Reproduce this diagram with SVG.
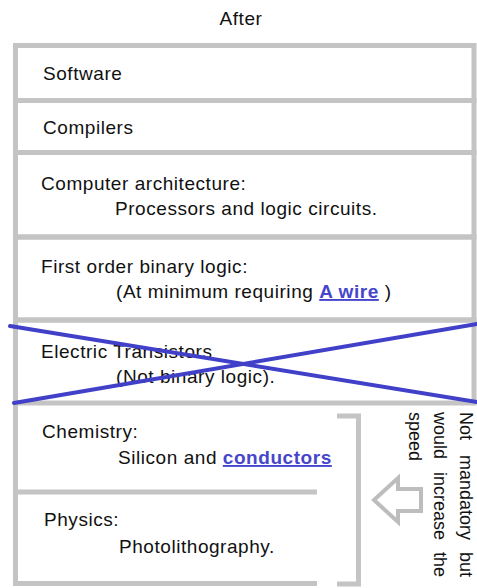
<svg xmlns="http://www.w3.org/2000/svg" width="477" height="588" viewBox="0 0 477 588">
<style>
  .t{font-family:"Liberation Sans",Arial,sans-serif;font-size:19px;fill:#111;letter-spacing:0.55px}
  .v{font-family:"Liberation Sans",Arial,sans-serif;font-size:18px;fill:#111}
  .lnk{fill:#4646cc;font-weight:bold;text-decoration:underline}
  .b{fill:none;stroke:#c4c4c4;stroke-width:5}
  .x{stroke:#4040c8;stroke-width:4;stroke-linecap:round}
</style>
<rect width="477" height="588" fill="#fff"/>
<text class="t" x="241" y="25" text-anchor="middle">After</text>
<g id="software">
  <rect class="b" x="15.5" y="45.5" width="458.5" height="55"/>
  <text class="t" x="43" y="80">Software</text>
</g>
<g id="compilers">
  <rect class="b" x="15.5" y="100.5" width="458.5" height="52"/>
  <text class="t" x="43" y="134">Compilers</text>
</g>
<g id="architecture">
  <rect class="b" x="15.5" y="152.5" width="458.5" height="84.5"/>
  <text class="t" x="41" y="190">Computer architecture:</text>
  <text class="t" x="115" y="215">Processors and logic circuits.</text>
</g>
<g id="binary-logic">
  <rect class="b" x="15.5" y="237" width="458.5" height="83"/>
  <text class="t" x="41" y="273">First order binary logic:</text>
  <text class="t" x="116" y="298">(At minimum requiring <tspan class="lnk">A wire</tspan> )</text>
</g>
<g id="transistors">
  <rect class="b" x="15.5" y="320" width="458.5" height="83"/>
  <text class="t" x="41" y="358">Electric Transistors</text>
  <text class="t" x="116" y="383">(Not binary logic).</text>
</g>
<g id="chemistry">
  <path class="b" d="M15.5,403 V492 H317"/>
  <text class="t" x="42" y="438">Chemistry:</text>
  <text class="t" x="118" y="464">Silicon and <tspan class="lnk">conductors</tspan></text>
</g>
<g id="physics">
  <path class="b" d="M15.5,492 V583.5 H317"/>
  <text class="t" x="44" y="526">Physics:</text>
  <text class="t" x="119" y="553">Photolithography.</text>
</g>
<g id="note">
  <path class="b" d="M337,416 H358.5 V584 H337"/>
  <text class="v" transform="translate(460,0) rotate(90)"><tspan x="412">Not</tspan><tspan x="455">mandatory</tspan><tspan x="577" text-anchor="end">but</tspan></text>
  <text class="v" transform="translate(434,0) rotate(90)"><tspan x="412">would</tspan><tspan x="472">increase</tspan><tspan x="577" text-anchor="end">the</tspan></text>
  <text class="v" transform="translate(409,0) rotate(90)"><tspan x="412">speed</tspan></text>
</g>
<g id="connectors">
  <polygon points="374,500 398,478 398,489 421,489 421,511 398,511 398,522" fill="#fff" stroke="#bdbdbd" stroke-width="4" stroke-linejoin="miter"/>
  <line class="x" x1="10" y1="326" x2="477" y2="402"/>
  <line class="x" x1="14" y1="403" x2="477" y2="324"/>
</g>
</svg>
